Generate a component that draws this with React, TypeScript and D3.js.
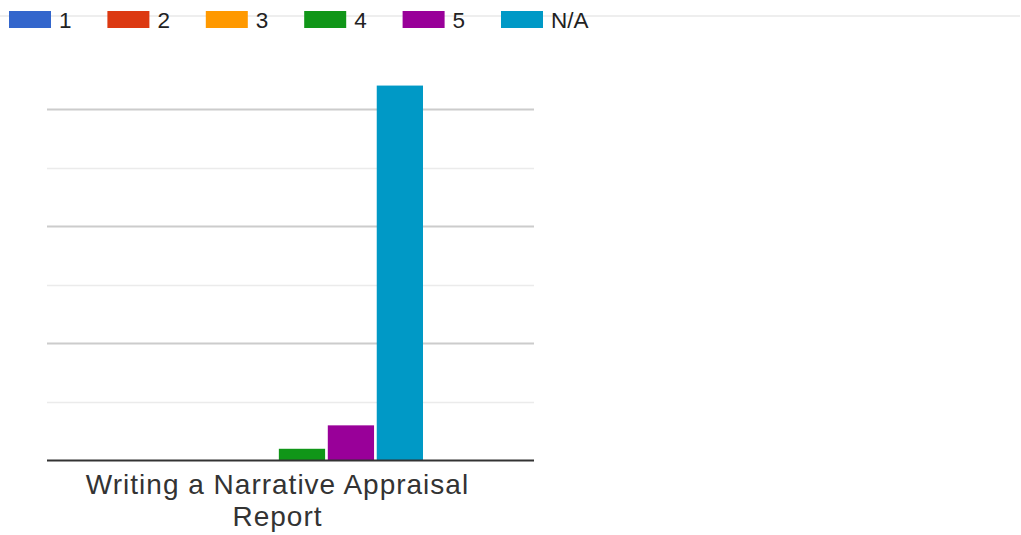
import React, { useEffect, useRef } from 'react';
import * as d3 from 'd3';

// data
const categories = ['Writing a Narrative Appraisal Report'];
const categoryLabelLines = ['Writing a Narrative Appraisal', 'Report'];
const seriesNames = ['1', '2', '3', '4', '5', 'N/A'];
const seriesValues = [0, 0, 0, 1, 3, 32];
const seriesColors = ['#3366cc', '#dc3912', '#ff9900', '#109618', '#990099', '#0099c6'];
const yTicks = [0, 5, 10, 15, 20, 25, 30];

const width = 1021;
const height = 535;
const fontFamily = 'Arial, "Liberation Sans", sans-serif';

const App: React.FC = () => {
  const svgRef = useRef<SVGSVGElement>(null);

  useEffect(() => {
    if (!svgRef.current) return;
    const svg = d3.select(svgRef.current);
    svg.selectAll('*').remove();

    const plotLeft = 47;
    const plotRight = 534;

    const x0 = d3.scaleBand().domain(categories).range([plotLeft, 508]).padding(0);
    const groupPad = 85;
    const x1 = d3
      .scaleBand()
      .domain(seriesNames)
      .range([groupPad, x0.bandwidth() - groupPad])
      .paddingInner(0.055)
      .paddingOuter(0);

    const y = d3.scaleLinear().domain([0, 30]).range([460.5, 109]);

    // legend rule behind the legend
    svg
      .append('line')
      .attr('x1', 0)
      .attr('x2', 1020)
      .attr('y1', 16)
      .attr('y2', 16)
      .attr('stroke', '#eeeeee')
      .attr('stroke-width', 2);

    const legend = svg
      .append('g')
      .selectAll('g')
      .data(seriesNames)
      .enter()
      .append('g')
      .attr('transform', (d, i) => `translate(${9 + i * 98.4},0)`);

    legend
      .append('rect')
      .attr('x', 0)
      .attr('y', 11)
      .attr('width', 42)
      .attr('height', 17)
      .attr('fill', (d, i) => seriesColors[i]);

    legend
      .append('text')
      .attr('x', 50)
      .attr('y', 28)
      .attr('font-family', fontFamily)
      .attr('font-size', 22.5)
      .attr('fill', '#222')
      .text((d) => d);

    // gridlines
    svg
      .append('g')
      .selectAll('line')
      .data(yTicks.filter((t) => t !== 0))
      .enter()
      .append('line')
      .attr('x1', plotLeft)
      .attr('x2', plotRight)
      .attr('y1', (d) => Math.round(y(d)) + 0.5)
      .attr('y2', (d) => Math.round(y(d)) + 0.5)
      .attr('stroke', (d) => (d % 10 === 0 ? '#cccccc' : '#ebebeb'))
      .attr('stroke-width', (d) => (d % 10 === 0 ? 2 : 1.5));

    // bars
    const groups = svg
      .append('g')
      .selectAll('g')
      .data(categories)
      .enter()
      .append('g')
      .attr('transform', (d) => `translate(${x0(d)},0)`);

    groups
      .selectAll('rect')
      .data(seriesNames.map((name, i) => ({ name, value: seriesValues[i], color: seriesColors[i] })))
      .enter()
      .append('rect')
      .attr('x', (d) => x1(d.name) as number)
      .attr('width', x1.bandwidth())
      .attr('y', (d) => y(d.value))
      .attr('height', (d) => y(0) - y(d.value))
      .attr('fill', (d) => d.color);

    // baseline
    svg
      .append('line')
      .attr('x1', plotLeft)
      .attr('x2', plotRight)
      .attr('y1', y(0))
      .attr('y2', y(0))
      .attr('stroke', '#333')
      .attr('stroke-width', 2);

    // category label
    const cx = (x0(categories[0]) as number) + x0.bandwidth() / 2;
    svg
      .append('text')
      .attr('text-anchor', 'middle')
      .attr('font-family', fontFamily)
      .attr('font-size', 28)
      .attr('letter-spacing', 1)
      .attr('fill', '#333')
      .selectAll('tspan')
      .data(categoryLabelLines)
      .enter()
      .append('tspan')
      .attr('x', cx)
      .attr('y', (d, i) => 493.5 + i * 32.5)
      .text((d) => d);
  }, []);

  return (
    <div style={{ position: 'absolute', left: 0, top: 0, background: '#fff' }}>
      <svg ref={svgRef} width={width} height={height} style={{ display: 'block' }} />
    </div>
  );
};

export default App;
